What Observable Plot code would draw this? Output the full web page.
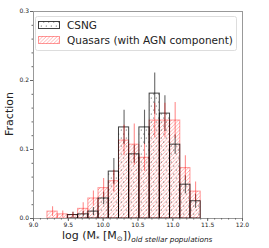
<!DOCTYPE html>
<html><head><meta charset="utf-8">
<script src="https://cdn.jsdelivr.net/npm/d3@7"></script>
<script src="https://cdn.jsdelivr.net/npm/@observablehq/plot@0.6"></script>
<style>
body{margin:0;background:#fff;font-family:"DejaVu Sans",sans-serif;}
</style></head>
<body><div id="chart"></div>
<script>
const binEdges = [9.2, 9.347, 9.493, 9.64, 9.787, 9.933, 10.08, 10.227, 10.373, 10.52, 10.667, 10.813, 10.96, 11.107, 11.253, 11.4];
const csng    = [0, 0, 0.005, 0.006, 0.010, 0.029, 0.068, 0.132, 0.093, 0.132, 0.181, 0.152, 0.107, 0.049, 0.025];
const csngErr = [0, 0, 0.004, 0.004, 0.006, 0.009, 0.019, 0.025, 0.013, 0.025, 0.030, 0.026, 0.014, 0.013, 0.010];
const qso     = [0.010, 0.006, 0.005, 0.014, 0.029, 0.044, 0.054, 0.113, 0.107, 0.088, 0.142, 0.142, 0.142, 0.073, 0.039];
const qsoErr  = [0.007, 0.005, 0.004, 0.009, 0.011, 0.014, 0.016, 0.022, 0.030, 0.020, 0.025, 0.025, 0.026, 0.018, 0.014];
const xTicks = [9.0, 9.5, 10.0, 10.5, 11.0, 11.5, 12.0];
const yTicks = [0.0, 0.1, 0.2, 0.3];
const seriesNames = ["CSNG", "Quasars (with AGN component)"];

const bins = (vals, errs) => vals.map((v, i) => ({
  x1: binEdges[i], x2: binEdges[i + 1], xc: (binEdges[i] + binEdges[i + 1]) / 2,
  y: v, lo: Math.max(0, v - errs[i]), hi: v + errs[i]
}));
const csngBins = bins(csng, csngErr).filter(d => d.y > 0);
const qsoBins = bins(qso, qsoErr);

const yMinor = d3.range(0, 0.3001, 0.02).map(v => +v.toFixed(2));
const xMinor = d3.range(9, 12.001, 0.1).map(v => +v.toFixed(1));

const W = 269, H = 248;
const plot = Plot.plot({
  width: W, height: H,
  marginLeft: 33, marginRight: 27, marginTop: 11, marginBottom: 30,
  style: {fontFamily: "DejaVu Sans, sans-serif", color: "#222", background: "#fff"},
  x: {domain: [9, 12]},
  y: {domain: [0, 0.3]},
  marks: [
    Plot.rect(qsoBins, {x1: "x1", x2: "x2", y1: 0, y2: "y", fill: "url(#hatchRed)", stroke: "#ff0000", strokeOpacity: 0.4, strokeWidth: 1}),
    Plot.rect(csngBins, {x1: "x1", x2: "x2", y1: 0, y2: "y", fill: "url(#dots)", stroke: "#000", strokeOpacity: 0.75, strokeWidth: 1}),
    Plot.ruleX(csngBins, {x: "xc", y1: "lo", y2: "hi", stroke: "#000", strokeOpacity: 0.6, strokeWidth: 1.1}),
    Plot.ruleX(qsoBins, {x: "xc", y1: "lo", y2: "hi", stroke: "#ff0000", strokeOpacity: 0.45, strokeWidth: 1.1}),
    Plot.frame({stroke: "#999", strokeWidth: 1}),
    Plot.axisX({ticks: xMinor, tickSize: 1.5, tickFormat: () => "", stroke: "#666"}),
    Plot.axisX({ticks: xTicks, tickSize: 3, tickFormat: d3.format(".1f"), fontSize: 6, tickPadding: 1.5, label: null, stroke: "#666"}),
    Plot.axisY({ticks: yMinor, tickSize: 1.5, tickFormat: () => "", stroke: "#666"}),
    Plot.axisY({ticks: yTicks, tickSize: 3, tickFormat: d3.format(".1f"), fontSize: 6, tickPadding: 1.5, label: null, stroke: "#666"})
  ]
});

const svg = d3.select(plot);
const defs = svg.insert("defs", ":first-child");
const pd = defs.append("pattern").attr("id", "dots").attr("patternUnits", "userSpaceOnUse")
  .attr("width", 5).attr("height", 8);
pd.append("rect").attr("width", 5).attr("height", 8).attr("fill", "none");
pd.append("circle").attr("cx", 1.25).attr("cy", 2).attr("r", 0.5).attr("fill", "#000").attr("fill-opacity", 0.8);
pd.append("circle").attr("cx", 3.75).attr("cy", 6).attr("r", 0.5).attr("fill", "#000").attr("fill-opacity", 0.8);
const ph = defs.append("pattern").attr("id", "hatchRed").attr("patternUnits", "userSpaceOnUse")
  .attr("width", 3.6).attr("height", 3.6);
ph.append("path").attr("d", "M-0.9,0.9 L0.9,-0.9 M0,3.6 L3.6,0 M2.7,4.5 L4.5,2.7")
  .attr("stroke", "#ff0000").attr("stroke-opacity", 0.45).attr("stroke-width", 0.7);

// axis labels
svg.append("text").attr("transform", "translate(13,114) rotate(-90)")
  .attr("text-anchor", "middle").attr("font-size", 11).attr("fill", "#222").text("Fraction");
const xl = svg.append("text").attr("x", 62).attr("y", 239).attr("text-anchor", "start")
  .attr("font-size", 11).attr("fill", "#222");
xl.append("tspan").text("log (M");
xl.append("tspan").attr("font-size", 7).attr("dy", 2).text("*");
xl.append("tspan").attr("dy", -2).text(" [M");
xl.append("tspan").attr("font-size", 7).attr("dy", 2).text("⊙");
xl.append("tspan").attr("dy", -2).text("])");
xl.append("tspan").attr("font-size", 7.3).attr("font-style", "italic").attr("dy", 2.5).text("old stellar populations");

// legend
const lg = svg.append("g").attr("text-anchor", "start");
lg.append("rect").attr("x", 35.5).attr("y", 16.5).attr("width", 201).attr("height", 34)
  .attr("rx", 2).attr("fill", "#fff").attr("fill-opacity", 0.8).attr("stroke", "#ddd");
lg.append("rect").attr("x", 38.5).attr("y", 21.5).attr("width", 21).attr("height", 7)
  .attr("fill", "url(#dots)").attr("stroke", "#000").attr("stroke-opacity", 0.75);
lg.append("rect").attr("x", 38.5).attr("y", 36.5).attr("width", 21).attr("height", 7)
  .attr("fill", "url(#hatchRed)").attr("stroke", "#ff0000").attr("stroke-opacity", 0.4);
lg.append("text").attr("x", 67).attr("y", 29).attr("font-size", 10.5).attr("fill", "#222").text(seriesNames[0]);
lg.append("text").attr("x", 67).attr("y", 44).attr("font-size", 10.5).attr("fill", "#222").text(seriesNames[1]);

document.getElementById("chart").appendChild(plot);
</script></body></html>
